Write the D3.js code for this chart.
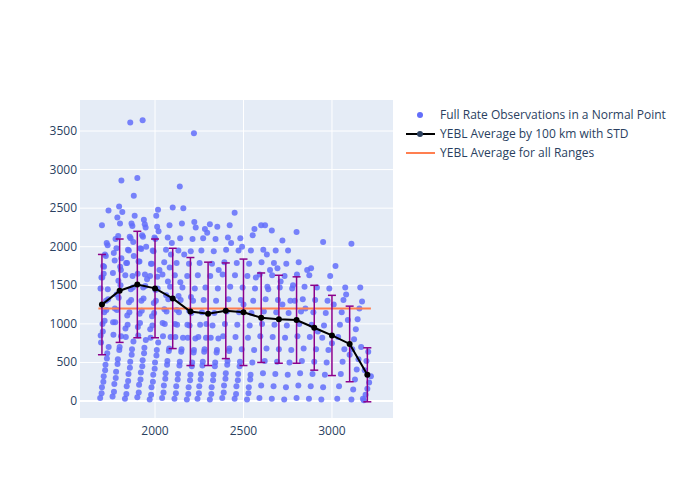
<!DOCTYPE html>
<html><head><meta charset="utf-8">
<script src="https://cdn.jsdelivr.net/npm/d3@7"></script>
<style>body{margin:0;background:#fff}</style></head>
<body><svg id="c" width="700" height="500"></svg>
<script>
const obsX = [1690,1700,1710,1720,1730,1695,1705,1715,1725,1735,1692,1702,1712,1722,1732,1698,1708,1718,1728,1738,1693,1703,1713,1723,1733,1697,1707,1717,1727,1737,1700,1710,
1760,1770,1780,1790,1800,1765,1775,1785,1795,1805,1762,1772,1782,1792,1802,1768,1778,1788,1798,1808,1763,1773,1783,1793,1803,1767,1777,1787,1797,1807,1810,1815,
1830,1840,1850,1860,1870,1835,1845,1855,1865,1875,1832,1842,1852,1862,1872,1838,1848,1858,1868,1878,1833,1843,1853,1863,1873,1837,1847,1857,1867,1877,1880,1885,
1900,1910,1920,1930,1940,1905,1915,1925,1935,1945,1902,1912,1922,1932,1942,1908,1918,1928,1938,1948,1903,1913,1923,1933,1943,1907,1917,1927,1937,1947,1950,1955,
1970,1980,1990,2000,2010,1975,1985,1995,2005,2015,1972,1982,1992,2002,2012,1978,1988,1998,2008,2018,1973,1983,1993,2003,2013,1977,1987,1997,2007,2017,2020,2025,
2040,2050,2060,2070,2080,2045,2055,2065,2075,2085,2042,2052,2062,2072,2082,2048,2058,2068,2078,2088,2043,2053,2063,2073,2083,2090,2095,2100,
2110,2120,2130,2140,2150,2115,2125,2135,2145,2155,2112,2122,2132,2142,2152,2118,2128,2138,2148,2158,2113,2123,2133,2143,2160,2165,
2180,2190,2200,2210,2220,2185,2195,2205,2215,2225,2182,2192,2202,2212,2222,2188,2198,2208,2218,2228,2183,2193,2203,2230,
2240,2250,2260,2270,2280,2245,2255,2265,2275,2285,2242,2252,2262,2272,2282,2248,2258,2268,2278,2288,2290,2295,
2310,2320,2330,2340,2350,2315,2325,2335,2345,2355,2312,2322,2332,2342,2352,2318,2328,2338,2348,2358,2360,
2380,2390,2400,2410,2420,2385,2395,2405,2415,2425,2382,2392,2402,2412,2422,2388,2398,2408,2418,2430,
2450,2460,2470,2480,2490,2455,2465,2475,2485,2495,2452,2462,2472,2482,2492,2458,2468,2478,2500,
2520,2530,2540,2550,2560,2525,2535,2545,2555,2565,2522,2532,2542,2552,2562,2528,2538,2570,
2590,2600,2610,2620,2630,2595,2605,2615,2625,2635,2592,2602,2612,2622,2632,2640,2650,
2660,2670,2680,2690,2700,2665,2675,2685,2695,2705,2662,2672,2682,2692,2710,2720,
2730,2740,2750,2760,2770,2735,2745,2755,2765,2775,2732,2742,2752,2780,2790,
2800,2810,2820,2830,2840,2805,2815,2825,2835,2845,2802,2812,2850,2860,
2870,2880,2890,2900,2910,2875,2885,2895,2905,2915,2872,2882,2920,
2940,2950,2960,2970,2980,2945,2955,2965,2975,2985,2990,3000,3010,3020,
3030,3040,3050,3060,3070,3035,3045,3055,3065,3075,3080,3090,3100,
3110,3120,3130,3140,3150,3115,3125,3135,3145,3155,3160,3170,
3180,3190,3200,3210,3220,3185,3195,3205,3175,3165,
1860,1930,2220,1900,1810,2140,1880,2310,2450,2800,3110,2660,2720,2950,2600];
const obsY = [40,180,320,470,620,760,900,1040,1180,1320,1460,1600,1740,1880,2020,100,250,400,550,700,850,1000,1150,1300,1450,1600,1750,1900,2050,2470,2280,1650,
60,220,380,540,700,860,1020,1180,1340,1500,1660,1820,1980,2140,2300,120,300,480,660,840,1020,1200,1380,1560,1740,1920,2100,2380,2520,1700,1850,2450,
30,190,350,510,670,830,990,1150,1310,1470,1630,1790,1950,2110,2270,90,260,430,600,770,940,1110,1280,1450,1620,1790,1960,2130,2300,2060,1880,2400,
50,210,370,530,690,850,1010,1170,1330,1490,1650,1810,1970,2130,2290,110,280,450,620,790,960,1130,1300,1470,1640,1810,1980,2150,2350,2250,2000,1580,
20,180,340,500,660,820,980,1140,1300,1460,1620,1780,1940,2100,2260,80,250,420,590,760,930,1100,1270,1440,1610,1780,1950,2120,2400,2480,2200,1700,
40,200,360,520,680,840,1000,1160,1320,1480,1640,1800,1960,2120,2280,110,290,470,650,830,1010,1190,1370,1550,1730,1900,2050,2510,
30,190,350,510,670,830,990,1150,1310,1470,1630,1790,1950,2110,2300,100,280,460,640,820,1000,1180,1360,1540,2500,1900,
20,180,340,500,660,820,980,1140,1300,1460,1620,1780,1940,2100,2320,90,270,450,630,810,990,1170,1350,2250,
30,190,350,510,670,830,990,1150,1310,1470,1630,1790,1950,2110,2230,100,280,460,640,820,1000,2180,
20,180,340,500,660,820,980,1140,1300,1460,1620,1780,1940,2100,2260,90,270,450,630,810,1700,
40,200,360,520,680,840,1000,1160,1320,1480,1640,1800,1960,2120,2280,110,290,470,650,2050,
30,190,350,510,670,830,990,1150,1310,1470,1630,1790,1950,2110,2000,90,270,450,1250,
20,180,340,500,660,820,980,1140,1300,1460,1620,1780,1950,2150,2230,100,280,1600,
40,200,360,520,680,840,1000,1160,1320,1480,1640,1800,1960,2280,1900,1450,1700,
30,190,350,510,670,830,990,1150,1310,1470,1630,1790,1950,1720,1550,1250,
20,180,340,500,660,820,980,1140,1300,1460,1620,1780,1950,1500,1300,
40,200,360,520,680,840,1000,1160,1320,1480,1640,1800,1200,1700,
30,190,350,510,670,830,990,1150,1310,1470,1630,1720,900,
20,180,340,500,660,820,980,1140,1300,1460,1620,750,1250,1750,
30,190,350,510,670,830,990,1150,1310,1470,1380,1050,600,
20,150,280,410,540,670,800,930,1060,1200,1470,1290,
10,80,160,240,320,400,520,640,30,700,
3610,3640,3470,2890,2860,2780,2660,2290,2440,2190,2040,2210,2080,2060,2280];
const avgX = [1700,1800,1900,2000,2100,2200,2300,2400,2500,2600,2700,2800,2900,3000,3100,3200];
const avgY = [1250,1430,1510,1460,1330,1160,1130,1170,1150,1080,1060,1050,950,850,740,340];
const avgStd = [650,670,690,640,650,700,670,620,690,580,570,560,550,520,490,350];
const overallAvg = 1200, overallRange = [1680,3220];
const yTicks = [0,500,1000,1500,2000,2500,3000,3500];
const xTicks = [2000,2500,3000];
const legendLabels = ["Full Rate Observations in a Normal Point","YEBL Average by 100 km with STD","YEBL Average for all Ranges"];

const svg = d3.select("#c");
const L=80,R=393,T=100,B=418;
const x = d3.scaleLinear().domain([1576,3345]).range([L,R]);
const y = d3.scaleLinear().domain([-220,3902]).range([B,T]);
svg.append("rect").attr("x",L).attr("y",T).attr("width",R-L).attr("height",B-T).attr("fill","#e5ecf6");
const g = svg.append("g");
yTicks.forEach(v=>{
  g.append("line").attr("x1",L).attr("x2",R).attr("y1",y(v)).attr("y2",y(v)).attr("stroke","#fff").attr("stroke-width",v===0?2:1);
  g.append("text").attr("x",L-3).attr("y",y(v)+4).attr("text-anchor","end").attr("font-family","Open Sans, sans-serif").attr("font-size",12).attr("fill","#2a3f5f").text(v);
});
xTicks.forEach(v=>{
  g.append("line").attr("y1",T).attr("y2",B).attr("x1",x(v)).attr("x2",x(v)).attr("stroke","#fff");
  g.append("text").attr("x",x(v)).attr("y",B+17).attr("text-anchor","middle").attr("font-family","Open Sans, sans-serif").attr("font-size",12).attr("fill","#2a3f5f").text(v);
});
const clip = svg.append("clipPath").attr("id","cp").append("rect").attr("x",L).attr("y",T).attr("width",R-L).attr("height",B-T);
const p = svg.append("g").attr("clip-path","url(#cp)");
obsX.forEach((vx,i)=>p.append("circle").attr("cx",x(vx)).attr("cy",y(obsY[i])).attr("r",3).attr("fill","#636efa").attr("opacity",0.85));
p.append("line").attr("x1",x(overallRange[0])).attr("x2",x(overallRange[1])).attr("y1",y(overallAvg)).attr("y2",y(overallAvg)).attr("stroke","#ff7f50").attr("stroke-width",2);
avgX.forEach((vx,i)=>{
  const c="#8b008b";
  p.append("line").attr("x1",x(vx)).attr("x2",x(vx)).attr("y1",y(avgY[i]-avgStd[i])).attr("y2",y(avgY[i]+avgStd[i])).attr("stroke",c).attr("stroke-width",1.5);
  [avgY[i]-avgStd[i],avgY[i]+avgStd[i]].forEach(e=>p.append("line").attr("x1",x(vx)-4).attr("x2",x(vx)+4).attr("y1",y(e)).attr("y2",y(e)).attr("stroke",c).attr("stroke-width",1.5));
});
p.append("path").datum(avgX.map((v,i)=>[v,avgY[i]])).attr("d",d3.line().x(d=>x(d[0])).y(d=>y(d[1]))).attr("fill","none").attr("stroke","#000").attr("stroke-width",2);
avgX.forEach((vx,i)=>p.append("circle").attr("cx",x(vx)).attr("cy",y(avgY[i])).attr("r",3).attr("fill","#000"));
// legend
const lg = svg.append("g").attr("font-family","Open Sans, sans-serif").attr("font-size",12).attr("fill","#2a3f5f");
legendLabels.forEach((t,i)=>{
  const yy=115+i*19;
  if(i===0) lg.append("circle").attr("cx",420).attr("cy",yy).attr("r",3).attr("fill","#636efa");
  if(i===1){lg.append("line").attr("x1",406).attr("x2",435).attr("y1",yy).attr("y2",yy).attr("stroke","#000").attr("stroke-width",2);lg.append("circle").attr("cx",420).attr("cy",yy).attr("r",3);}
  if(i===2) lg.append("line").attr("x1",406).attr("x2",435).attr("y1",yy).attr("y2",yy).attr("stroke","#ff7f50").attr("stroke-width",2);
  lg.append("text").attr("x",440).attr("y",yy+4).attr("fill","#2a3f5f").text(t);
});
</script></body></html>
